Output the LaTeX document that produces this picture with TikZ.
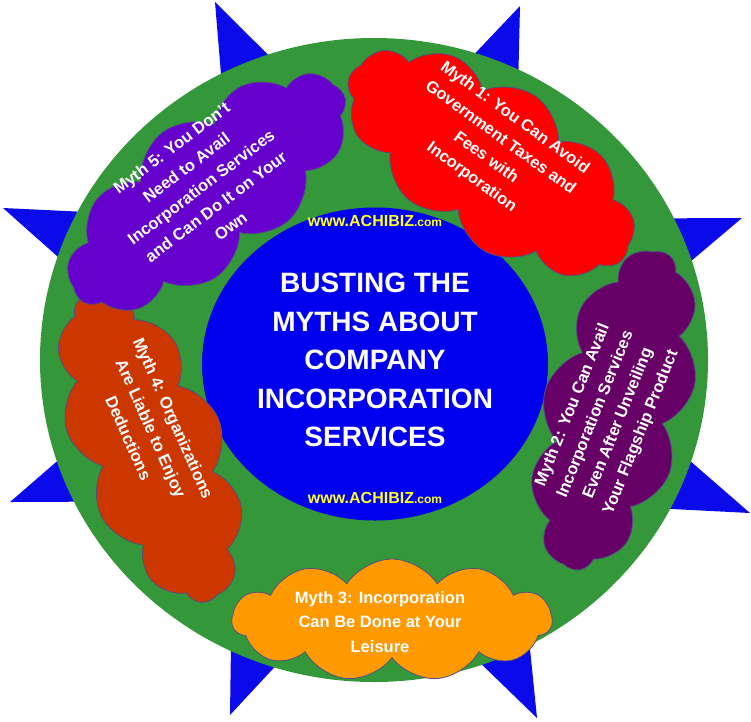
\documentclass[tikz,border=0pt]{standalone}
\usepackage{fontspec}
\setmainfont{Liberation Sans}
\definecolor{StarBlue}{RGB}{10,10,235}
\definecolor{RingGreen}{RGB}{52,152,58}
\definecolor{HubBlue}{RGB}{0,0,238}
\definecolor{SiteYellow}{RGB}{255,255,40}
\definecolor{CloudEdge}{RGB}{80,80,130}
\definecolor{MythRed}{RGB}{255,0,0}
\definecolor{MythPlum}{RGB}{102,0,102}
\definecolor{MythOrange}{RGB}{255,153,0}
\definecolor{MythRust}{RGB}{204,55,0}
\definecolor{MythViolet}{RGB}{102,0,204}
\usetikzlibrary{shapes,arrows}

\begin{document}
\begin{tikzpicture}[x=1pt, y=1pt]
				\useasboundingbox (0,0) rectangle (751,-721);
				\tikzstyle{cloudbox}=[draw=CloudEdge, line width=0.8pt, shape=cloud, cloud puffs=11, cloud puff arc=115, cloud ignores aspect, inner sep=0pt];
				\tikzstyle{mythtext}=[text=white, align=center, font=\bfseries\fontsize{16.5}{24.5}\selectfont, inner sep=0pt];
				\tikzstyle{sitetext}=[text=SiteYellow, font=\bfseries\fontsize{16}{18}\selectfont, inner sep=0pt];
				\fill[StarBlue] (742,-218) -- (515,-219) -- (520,-6) -- (374,-160) -- (215,-2) -- (233,-219)
					-- (3,-208) -- (174,-360) -- (10,-502) -- (233,-501) -- (230,-715) -- (374,-560)
					-- (537,-718) -- (515,-501) -- (750,-513) -- (574,-360) -- cycle;
				\node [shape=ellipse, fill=RingGreen, minimum width=668, minimum height=644] (ring) at (374,-360) {};
				\node [shape=ellipse, fill=HubBlue, minimum width=346, minimum height=313] (hub) at (375,-364) {};
				\node [cloudbox, fill=MythRed, rotate=-34, minimum width=330, minimum height=160] (c1) at (490,-162) {};
				\node [cloudbox, fill=MythPlum, rotate=74, minimum width=330, minimum height=145] (c2) at (615,-410) {};
				\node [cloudbox, fill=MythOrange, minimum width=320, minimum height=122] (c3) at (392,-620) {};
				\node [cloudbox, fill=MythRust, rotate=-68, minimum width=330, minimum height=148] (c4) at (150,-447) {};
				\node [cloudbox, fill=MythViolet, rotate=38, minimum width=335, minimum height=150] (c5) at (208,-192) {};
				\node [mythtext, rotate=-36] (t1) at (493,-148) {Myth 1: You Can Avoid\\Government Taxes and\\Fees with\\Incorporation};
				\node [mythtext, rotate=68] (t2) at (607,-419) {Myth 2: You Can Avail\\Incorporation Services\\Even After Unveiling\\Your Flagship Product};
				\node [mythtext] (t3) at (380,-622) {Myth 3: Incorporation\\Can Be Done at Your\\Leisure};
				\node [mythtext, rotate=-66] (t4) at (151,-428) {Myth 4: Organizations\\Are Liable to Enjoy\\Deductions};
				\node [mythtext, rotate=37] (t5) at (201,-187) {Myth 5: You Don't\\Need to Avail\\Incorporation Services\\and Can Do It on Your\\Own};
				\node [text=white, align=center, font=\bfseries\fontsize{28}{38.5}\selectfont, inner sep=0pt] (title) at (375,-360) {BUSTING THE\\MYTHS ABOUT\\COMPANY\\INCORPORATION\\SERVICES};
				\node [sitetext] (w1) at (375,-221) {www.ACHIBIZ{\fontsize{12}{14}\selectfont.com}};
				\node [sitetext] (w2) at (375,-498) {www.ACHIBIZ{\fontsize{12}{14}\selectfont.com}};
			\end{tikzpicture}
\end{document}
